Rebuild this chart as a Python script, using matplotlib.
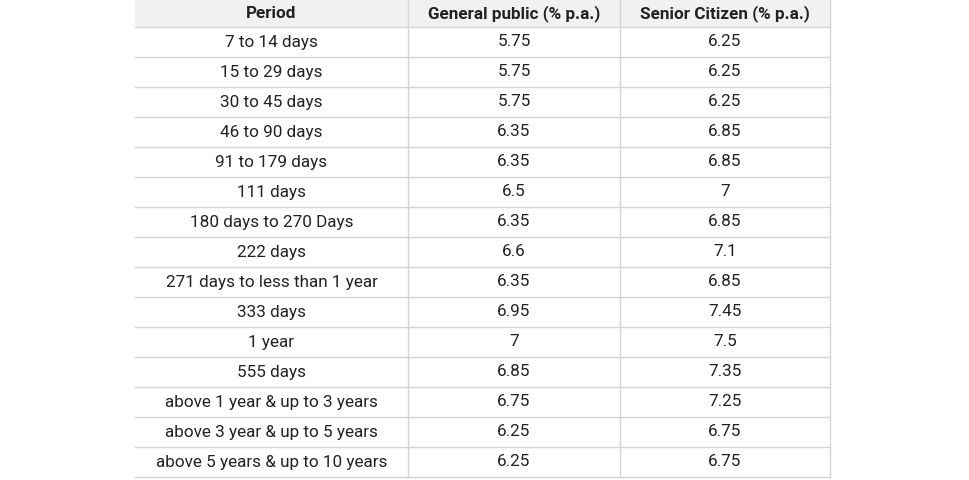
import matplotlib.pyplot as plt

plt.rcParams['font.family'] = ['Roboto', 'DejaVu Sans']

headers = ['Period', 'General public (% p.a.)', 'Senior Citizen (% p.a.)']
periods = ['7 to 14 days', '15 to 29 days', '30 to 45 days', '46 to 90 days',
           '91 to 179 days', '111 days', '180 days to 270 Days', '222 days',
           '271 days to less than 1 year', '333 days', '1 year', '555 days',
           'above 1 year & up to 3 years', 'above 3 year & up to 5 years',
           'above 5 years & up to 10 years']
general = ['5.75', '5.75', '5.75', '6.35', '6.35', '6.5', '6.35', '6.6',
           '6.35', '6.95', '7', '6.85', '6.75', '6.25', '6.25']
senior = ['6.25', '6.25', '6.25', '6.85', '6.85', '7', '6.85', '7.1',
          '6.85', '7.45', '7.5', '7.35', '7.25', '6.75', '6.75']

# layout in pixels
col_edges = [135, 408, 620, 830]
header_h = 27
row_h = 30
line_c = '#d4d4d4'
text_c = '#222222'

fig = plt.figure(figsize=(9.7, 4.8), dpi=100)
ax = fig.add_axes([0, 0, 1, 1])
ax.set_xlim(0, 970)
ax.set_ylim(480, 0)
ax.axis('off')

n = len(periods)
bottom = header_h + n * row_h

# header background
ax.fill_between([col_edges[0], col_edges[-1]], 0, header_h, color='#f1f1f1', lw=0)

# horizontal lines
for i in range(n + 1):
    y = header_h + i * row_h
    ax.plot([col_edges[0], col_edges[-1]], [y, y], color=line_c, lw=1)

# vertical lines (no left border)
for x in col_edges[1:]:
    ax.plot([x, x], [0, bottom], color=line_c, lw=1)

centers = [(col_edges[i] + col_edges[i + 1]) / 2 for i in range(3)]

for c, h in zip(centers, headers):
    ax.text(c, header_h / 2, h, ha='center', va='center', fontsize=12.3,
            fontweight='bold', color=text_c)

for i in range(n):
    y = header_h + (i + 0.5) * row_h
    for c, val in zip(centers, [periods[i], general[i], senior[i]]):
        ax.text(c, y, val, ha='center', va='center', fontsize=12.3, color=text_c)

fig.savefig('out.png', dpi=100, facecolor='white')
